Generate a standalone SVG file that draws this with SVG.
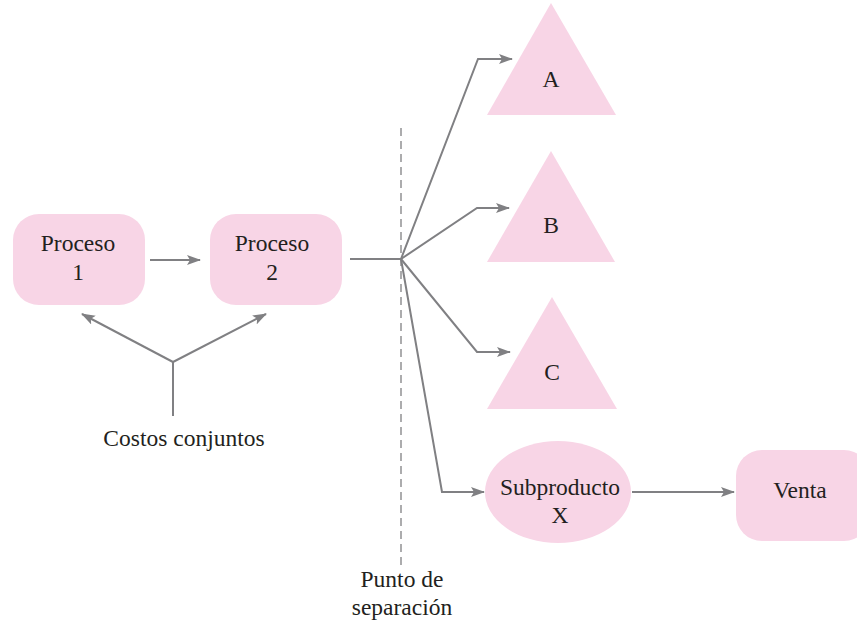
<svg xmlns="http://www.w3.org/2000/svg" width="857" height="623" viewBox="0 0 857 623">
<style>
.shape{fill:#f8d5e6;stroke:none}
text{font-family:'Liberation Serif','Times New Roman',Times,serif;font-size:23.5px;fill:#231f20;text-anchor:middle}
.con{fill:none;stroke:#808083;stroke-width:2}
.dash{fill:none;stroke:#808083;stroke-width:1.3;stroke-dasharray:8 5}
</style>
<defs>
<marker id="ah" markerWidth="14" markerHeight="10" refX="13" refY="5" orient="auto" markerUnits="userSpaceOnUse">
<path d="M0,0 L14,5 L0,10 L3,5 Z" fill="#808083"/>
</marker>
</defs>
<rect width="857" height="623" fill="#ffffff"/>
<g id="proceso1">
<rect class="shape" x="13" y="214" width="132" height="91" rx="26" ry="26"/>
<text x="78" y="251">Proceso</text>
<text x="78" y="280">1</text>
</g>
<g id="proceso2">
<rect class="shape" x="210" y="214" width="132" height="91" rx="26" ry="26"/>
<text x="272" y="251">Proceso</text>
<text x="272" y="280">2</text>
</g>
<g id="productoA">
<polygon class="shape" points="551,3 616,115 487,115"/>
<text x="551" y="87">A</text>
</g>
<g id="productoB">
<polygon class="shape" points="551,151 615,262 487,262"/>
<text x="551" y="233">B</text>
</g>
<g id="productoC">
<polygon class="shape" points="552,297 617,409 487,409"/>
<text x="552" y="380">C</text>
</g>
<g id="subproductoX">
<ellipse class="shape" cx="558" cy="492" rx="73" ry="51"/>
<text x="560" y="495">Subproducto</text>
<text x="560" y="523">X</text>
</g>
<g id="venta">
<rect class="shape" x="736" y="450" width="134" height="91" rx="26" ry="26"/>
<text x="800" y="498">Venta</text>
</g>
<g id="costos">
<text x="184" y="446">Costos conjuntos</text>
</g>
<g id="punto">
<text x="402" y="587">Punto de</text>
<text x="402" y="615">separación</text>
</g>
<g id="connectors">
<line class="dash" x1="401" y1="128" x2="401" y2="567"/>
<line class="con" x1="150" y1="260" x2="200" y2="260" marker-end="url(#ah)"/>
<polyline class="con" points="350,259 401,259"/>
<polyline class="con" points="401,259 478,59 512,59" marker-end="url(#ah)"/>
<polyline class="con" points="401,259 477,208 509,208" marker-end="url(#ah)"/>
<polyline class="con" points="401,259 477,352 510,352" marker-end="url(#ah)"/>
<polyline class="con" points="401,259 442,492 484,492" marker-end="url(#ah)"/>
<line class="con" x1="632" y1="492" x2="734" y2="492" marker-end="url(#ah)"/>
<line class="con" x1="173" y1="416" x2="173" y2="362"/>
<line class="con" x1="173" y1="362" x2="82" y2="314" marker-end="url(#ah)"/>
<line class="con" x1="173" y1="362" x2="266" y2="314" marker-end="url(#ah)"/>
</g>
</svg>
